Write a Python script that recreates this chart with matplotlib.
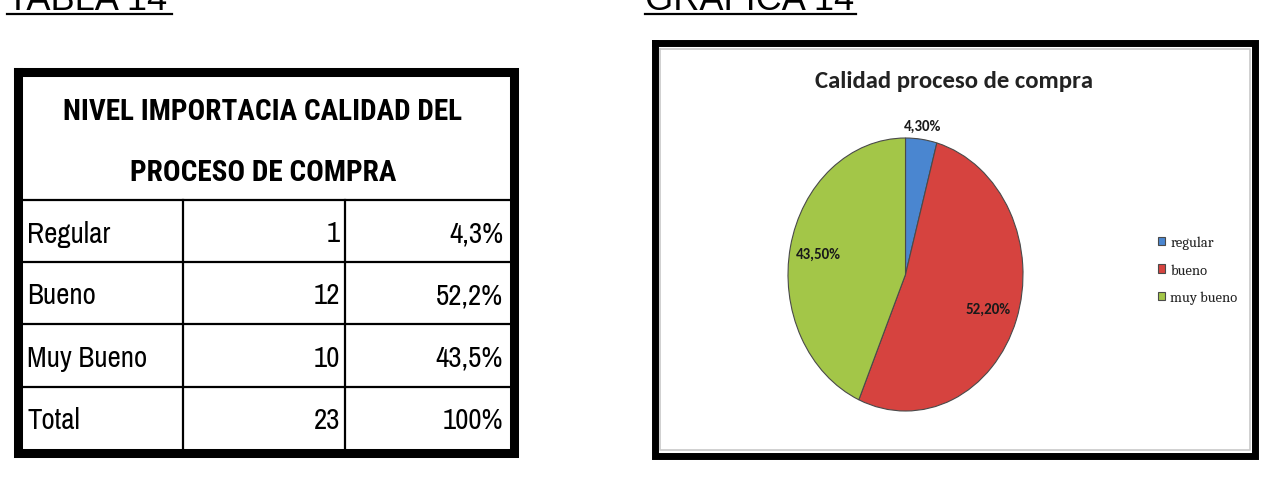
import matplotlib
matplotlib.use("Agg")
import matplotlib.pyplot as plt
from matplotlib import font_manager
import numpy as np

# datos de la tabla 14 / grafica 14
niveles = ["Regular", "Bueno", "Muy Bueno"]
frecuencias = [1, 12, 10]
porcentajes_tabla = ["4,3%", "52,2%", "43,5%"]
total_frec = 23
total_pct = "100%"

leyenda = ["regular", "bueno", "muy bueno"]
porcentajes = [4.3, 52.2, 43.5]
colores = ["#4A86D0", "#D6433F", "#A3C648"]

W, H = 1267, 489

names = {f.name for f in font_manager.fontManager.ttflist}


def pick(cands):
    for c in cands:
        if c in names:
            return c
    return "DejaVu Sans"


narrow = pick(["Liberation Sans Narrow", "Archivo Narrow", "PT Sans Narrow", "Roboto Condensed",
               "Pragati Narrow", "Liberation Sans"])
calibri = pick(["Carlito", "Lato", "Open Sans", "Liberation Sans"])
cond_bold = pick(["Roboto Condensed", "Archivo Narrow", "PT Sans Narrow", "Liberation Sans Narrow",
                  "Pragati Narrow", "Carlito"])
cambria = pick(["Caladea", "Liberation Serif"])
arial = "Liberation Sans"

fig = plt.figure(figsize=(W / 100, H / 100), dpi=100)
fig.patch.set_facecolor("white")
rend = fig.canvas.get_renderer()


def fit(t, target):
    # ajusta el tamano para que el texto ocupe el ancho medido en la referencia
    w = t.get_window_extent(renderer=rend).width
    t.set_fontsize(t.get_fontsize() * target / w)
    return t.get_fontsize()


# capa en pixeles para la tabla, marcos y rotulos
ov = fig.add_axes([0, 0, 1, 1])
ov.set_xlim(0, W)
ov.set_ylim(H, 0)
ov.axis("off")

# encabezados subrayados
t1 = ov.text(7, 10, "TABLA 14", fontsize=26, family=arial, va="baseline", ha="left")
t2 = ov.text(645, 10, "GRAFICA 14", fontsize=26, family=arial, va="baseline", ha="left")
ov.plot([7, 172], [15, 15], color="black", lw=1.6)
ov.plot([645, 856], [15, 15], color="black", lw=1.6)

# ---- tabla ----
x0, x1 = 17.5, 513.5
y0, y1 = 72.5, 453.5
ov.plot([x0, x1, x1, x0, x0], [y0, y0, y1, y1, y0], color="black", lw=6.5, solid_joinstyle="miter")
row_y = [201, 263, 325, 388, 449]
col_x = [183, 345]
for y in row_y[:-1]:
    ov.plot([x0, x1], [y, y], color="black", lw=1.6)
for x in col_x:
    ov.plot([x, x], [row_y[0], row_y[-1]], color="black", lw=1.6)

h1 = ov.text(263, 112, "NIVEL IMPORTACIA CALIDAD DEL", fontsize=23, fontweight="bold",
             family=cond_bold, ha="center", va="center")
fs_h = fit(h1, 400)
ov.text(263, 173, "PROCESO DE COMPRA", fontsize=fs_h, fontweight="bold",
        family=cond_bold, ha="center", va="center")

filas = list(zip(niveles, frecuencias, porcentajes_tabla)) + [("Total", total_frec, total_pct)]
probe = ov.text(0, -100, "Muy Bueno", fontsize=21, family=narrow)
fs_b = fit(probe, 120)
probe.remove()
for i, (nom, n, p) in enumerate(filas):
    yc = (row_y[i] + row_y[i + 1]) / 2 + 2
    ov.text(27, yc, nom, fontsize=fs_b, family=narrow, ha="left", va="center")
    ov.text(340, yc, str(n), fontsize=fs_b, family=narrow, ha="right", va="center")
    ov.text(503, yc, p, fontsize=fs_b, family=narrow, ha="right", va="center")

# ---- marco de la grafica ----
fx0, fx1 = 654.5, 1255
fy0, fy1 = 44, 456.5
ov.plot([fx0, fx1, fx1, fx0, fx0], [fy0, fy0, fy1, fy1, fy0], color="black", lw=5, solid_joinstyle="miter")
ov.plot([660, 1250, 1250, 660, 660], [49.5, 49.5, 451, 451, 49.5], color="#c8c8c8", lw=1.2)

tt = ov.text(954, 82, "Calidad proceso de compra", fontsize=17, fontweight="bold",
             family=calibri, color="#222222", ha="center", va="center")
fit(tt, 278)

# ---- pastel ----
px0, px1, py0, py1 = 788, 1023, 139, 412
pa = fig.add_axes([px0 / W, 1 - py1 / H, (px1 - px0) / W, (py1 - py0) / H])
wedges, _ = pa.pie(porcentajes, colors=colores, startangle=90, counterclock=False,
                   wedgeprops=dict(edgecolor="#4a4a4a", linewidth=0.8))
pa.set_aspect("auto")
pa.set_xlim(-1, 1)
pa.set_ylim(-1, 1)
pa.axis("off")

probe = pa.text(0, 0, "43,50%", fontsize=11, fontweight="bold", family=calibri)
fs_p = fit(probe, 45)
probe.remove()
label_r = [1.1, 0.75, 0.76]
for w, v, r in zip(wedges, porcentajes, label_r):
    ang = np.deg2rad((w.theta1 + w.theta2) / 2)
    pa.text(r * np.cos(ang), r * np.sin(ang), f"{v:.2f}%".replace(".", ","),
            fontsize=fs_p, fontweight="bold", family=calibri, color="#1a1a1a",
            ha="center", va="center", clip_on=False)

leg = fig.legend(wedges, leyenda, loc="upper left",
                 bbox_to_anchor=(1158 / W, 1 - 237 / H), frameon=False,
                 prop=dict(family=cambria, size=10.5), handlelength=0.5, handleheight=0.5,
                 handletextpad=0.35, labelspacing=0.95, borderpad=0, borderaxespad=0)
for t in leg.get_texts():
    t.set_color("#222222")

fig.savefig("out.png", dpi=100, facecolor="white")
